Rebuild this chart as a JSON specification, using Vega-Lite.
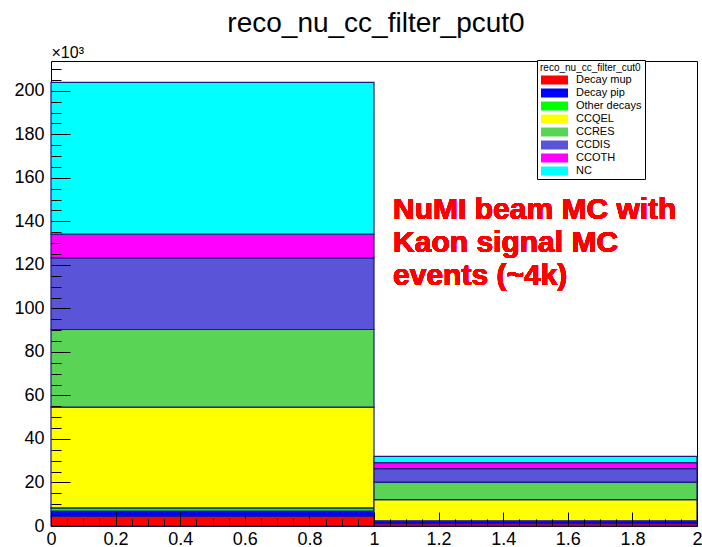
{
  "$schema": "https://vega.github.io/schema/vega-lite/v6.json",
  "width": 646,
  "height": 465,
  "autosize": "none",
  "padding": {"left": 51, "top": 61, "right": 5, "bottom": 21},
  "background": "white",
  "title": {
    "text": "reco_nu_cc_filter_pcut0",
    "font": "Liberation Sans",
    "fontSize": 28,
    "fontWeight": "normal",
    "color": "black",
    "anchor": "middle",
    "baseline": "alphabetic",
    "offset": -16,
    "dx": 2
  },
  "data": {
    "values": [
      {"bin_lo": 0, "bin_hi": 1, "component": "Decay mup", "events": 4500},
      {"bin_lo": 0, "bin_hi": 1, "component": "Decay pip", "events": 2400},
      {"bin_lo": 0, "bin_hi": 1, "component": "Other decays", "events": 1400},
      {"bin_lo": 0, "bin_hi": 1, "component": "CCQEL", "events": 46300},
      {"bin_lo": 0, "bin_hi": 1, "component": "CCRES", "events": 35700},
      {"bin_lo": 0, "bin_hi": 1, "component": "CCDIS", "events": 32900},
      {"bin_lo": 0, "bin_hi": 1, "component": "CCOTH", "events": 10900},
      {"bin_lo": 0, "bin_hi": 1, "component": "NC", "events": 69800},
      {"bin_lo": 1, "bin_hi": 2, "component": "Decay mup", "events": 1100},
      {"bin_lo": 1, "bin_hi": 2, "component": "Decay pip", "events": 1100},
      {"bin_lo": 1, "bin_hi": 2, "component": "Other decays", "events": 200},
      {"bin_lo": 1, "bin_hi": 2, "component": "CCQEL", "events": 9700},
      {"bin_lo": 1, "bin_hi": 2, "component": "CCRES", "events": 8100},
      {"bin_lo": 1, "bin_hi": 2, "component": "CCDIS", "events": 6200},
      {"bin_lo": 1, "bin_hi": 2, "component": "CCOTH", "events": 2700},
      {"bin_lo": 1, "bin_hi": 2, "component": "NC", "events": 2900}
    ]
  },
  "transform": [
    {"calculate": "indexof(['Decay mup','Decay pip','Other decays','CCQEL','CCRES','CCDIS','CCOTH','NC'], datum.component)", "as": "ord"},
    {"stack": "events", "groupby": ["bin_lo"], "sort": [{"field": "ord", "order": "ascending"}], "as": ["ev_lo", "ev_hi"]}
  ],
  "layer": [
    {
      "mark": {"type": "rect", "stroke": "#1a1a80", "strokeWidth": 1.2, "opacity": 1},
      "encoding": {
        "x": {
          "field": "bin_lo", "type": "quantitative",
          "scale": {"domain": [0, 2], "nice": false, "zero": false},
          "axis": {
            "title": null,
            "values": [0, 0.2, 0.4, 0.6, 0.8, 1, 1.2, 1.4, 1.6, 1.8, 2],
            "format": "~g",
            "orient": "bottom",
            "domain": false, "grid": false,
            "tickSize": -14, "tickColor": "black", "tickWidth": 1,
            "labelPadding": 18,
            "labelFont": "Liberation Sans", "labelFontSize": 18, "labelColor": "black",
            "labelFlush": false, "labelOverlap": false,
            "zindex": 1
          }
        },
        "x2": {"field": "bin_hi"},
        "y": {
          "field": "ev_lo", "type": "quantitative",
          "scale": {"domain": [0, 213700], "nice": false, "zero": true},
          "axis": {
            "values": [0, 20000, 40000, 60000, 80000, 100000, 120000, 140000, 160000, 180000, 200000],
            "labelExpr": "format(datum.value/1000,'d')",
            "orient": "left",
            "domain": false, "grid": false,
            "tickSize": -19, "tickColor": "black", "tickWidth": 1,
            "labelPadding": 26,
            "labelFont": "Liberation Sans", "labelFontSize": 18, "labelColor": "black",
            "labelFlush": false, "labelOverlap": false,
            "title": "×10³",
            "titleFont": "Liberation Sans", "titleFontSize": 16, "titleFontWeight": "normal", "titleColor": "black",
            "titleAngle": 0, "titleX": 0, "titleY": -4, "titleAlign": "left", "titleBaseline": "alphabetic",
            "zindex": 1
          }
        },
        "y2": {"field": "ev_hi"},
        "color": {
          "field": "component", "type": "nominal",
          "scale": {
            "domain": ["Decay mup", "Decay pip", "Other decays", "CCQEL", "CCRES", "CCDIS", "CCOTH", "NC"],
            "range": ["#ff0000", "#0000ff", "#00ff00", "#ffff00", "#59d454", "#5954d8", "#ff00ff", "#00ffff"]
          },
          "legend": {
            "title": "reco_nu_cc_filter_cut0",
            "orient": "none", "legendX": 486, "legendY": -1,
            "direction": "vertical",
            "titleFont": "Liberation Sans", "titleFontSize": 10, "titleFontWeight": "normal", "titleColor": "black",
            "titlePadding": 1.5,
            "labelFont": "Liberation Sans", "labelFontSize": 11, "labelColor": "black",
            "labelLimit": 300,
            "symbolType": "M-3,-1H3V1H-3Z",
            "symbolSize": 81,
            "symbolOffset": 9,
            "labelOffset": 16,
            "symbolStrokeWidth": 0,
            "symbolOpacity": 1,
            "rowPadding": 1,
            "padding": 3,
            "strokeColor": "black",
            "fillColor": "white",
            "cornerRadius": 0
          }
        }
      }
    },
    {
      "mark": {"type": "point", "opacity": 0},
      "encoding": {
        "x": {
          "field": "bin_lo", "type": "quantitative",
          "scale": {"domain": [0, 2], "nice": false, "zero": false},
          "axis": {
            "title": null, "orient": "bottom",
            "values": [0.05, 0.1, 0.15, 0.25, 0.3, 0.35, 0.45, 0.5, 0.55, 0.65, 0.7, 0.75, 0.85, 0.9, 0.95, 1.05, 1.1, 1.15, 1.25, 1.3, 1.35, 1.45, 1.5, 1.55, 1.65, 1.7, 1.75, 1.85, 1.9, 1.95],
            "labels": false, "domain": false, "grid": false,
            "tickSize": -7, "tickColor": "black", "tickWidth": 1,
            "zindex": 1
          }
        },
        "y": {
          "field": "ev_hi", "type": "quantitative",
          "scale": {"domain": [0, 213700], "nice": false, "zero": true},
          "axis": {
            "title": null, "orient": "left",
            "values": [5000, 10000, 15000, 25000, 30000, 35000, 45000, 50000, 55000, 65000, 70000, 75000, 85000, 90000, 95000, 105000, 110000, 115000, 125000, 130000, 135000, 145000, 150000, 155000, 165000, 170000, 175000, 185000, 190000, 195000, 205000, 210000],
            "labels": false, "domain": false, "grid": false,
            "tickSize": -10, "tickColor": "black", "tickWidth": 1,
            "zindex": 1
          }
        }
      }
    },
    {
      "mark": {
        "type": "text",
        "text": ["NuMI beam MC with", "Kaon signal MC", "events (~4k)"],
        "font": "Liberation Sans", "fontSize": 30, "fontWeight": "bold",
        "color": "#ff0000", "align": "left", "baseline": "alphabetic", "lineHeight": 33
      },
      "encoding": {
        "x": {"datum": 1.059, "type": "quantitative", "axis": null},
        "y": {"datum": 141300, "type": "quantitative", "axis": null}
      }
    }
  ],
  "resolve": {"axis": {"x": "independent", "y": "independent"}},
  "config": {
    "view": {"stroke": "black", "strokeWidth": 1},
    "axis": {"labelFont": "Liberation Sans", "titleFont": "Liberation Sans"}
  }
}
